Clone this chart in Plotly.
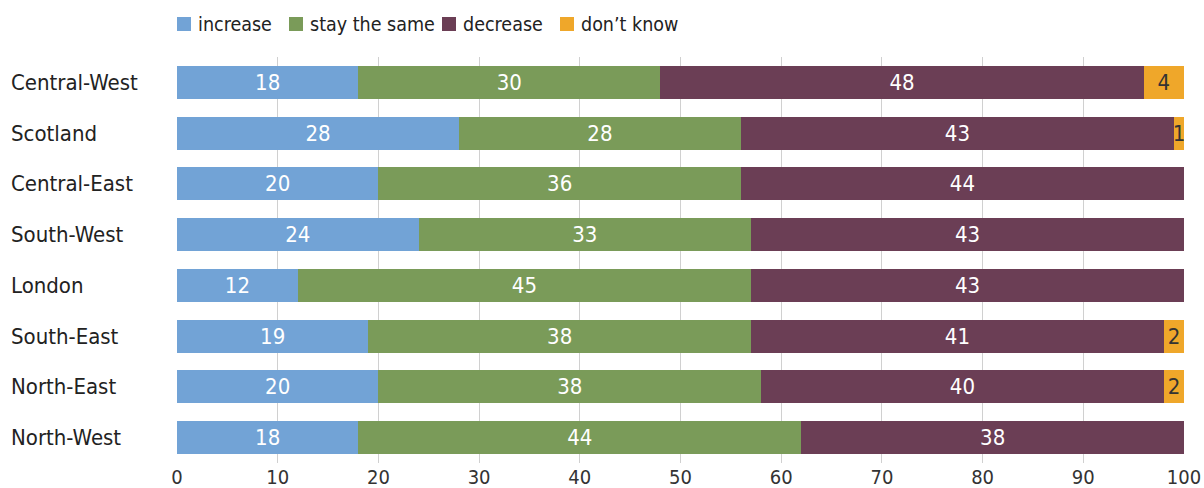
import plotly.graph_objects as go

regions = ["Central-West", "Scotland", "Central-East", "South-West",
           "London", "South-East", "North-East", "North-West"]
increase = [18, 28, 20, 24, 12, 19, 20, 18]
stay_same = [30, 28, 36, 33, 45, 38, 38, 44]
decrease = [48, 43, 44, 43, 43, 41, 40, 38]
dont_know = [4, 1, 0, 0, 0, 2, 2, 0]

series_names = ["increase", "stay the same", "decrease", "don\u2019t know"]
series_values = [increase, stay_same, decrease, dont_know]
series_colors = ["#72a3d6", "#7a9b59", "#6b3e55", "#efa72a"]
text_colors = ["white", "white", "white", "#333333"]

FONT = "DejaVu Sans Condensed, Liberation Sans Narrow, sans-serif"

W, H = 1204, 488
L, R, T, B = 177, 20, 57, 25
PW, PH = W - L - R, H - T - B


def px_x(px):
    return (px - L) / PW


def px_y(py):
    return (H - B - py) / PH


fig = go.Figure()
for name, vals, color, tcolor in zip(series_names, series_values,
                                      series_colors, text_colors):
    fig.add_trace(go.Bar(
        y=regions, x=vals, name=name, orientation="h",
        marker=dict(color=color, line=dict(width=0)),
        text=[str(v) if v else "" for v in vals],
        textposition="inside", insidetextanchor="middle",
        textfont=dict(color=tcolor, size=22, family=FONT),
        constraintext="none",
        showlegend=False,
    ))

# left-aligned category labels
for r in regions:
    fig.add_annotation(x=px_x(9), xref="paper", y=r, yref="y",
                       text=r, showarrow=False, xanchor="left",
                       font=dict(size=22, color="#222222", family=FONT))

# legend row above the plot
legend_x = [177, 289, 442, 560]
for name, color, lx in zip(series_names, series_colors, legend_x):
    fig.add_shape(type="rect", xref="paper", yref="paper",
                  x0=px_x(lx), x1=px_x(lx + 14),
                  y0=px_y(31), y1=px_y(17),
                  fillcolor=color, line=dict(width=0))
    fig.add_annotation(x=px_x(lx + 19), xref="paper", y=px_y(24),
                       yref="paper", text=name, showarrow=False,
                       xanchor="left", yanchor="middle",
                       font=dict(size=19.5, color="#222222", family=FONT))

fig.update_layout(
    barmode="stack",
    bargap=0.35,
    width=W, height=H,
    margin=dict(l=L, r=R, t=T, b=B),
    paper_bgcolor="white", plot_bgcolor="white",
    font=dict(family=FONT, color="#333333", size=20),
    showlegend=False,
    xaxis=dict(range=[0, 100], dtick=10, showgrid=True, gridcolor="#d0d0d0",
               gridwidth=1, zeroline=False, showline=False, automargin=False,
               ticks="", ticklen=0,
               tickfont=dict(size=20, color="#333333", family=FONT)),
    yaxis=dict(autorange="reversed", showgrid=False, ticks="",
               showticklabels=False, automargin=False),
)

fig.write_html("out.html")
